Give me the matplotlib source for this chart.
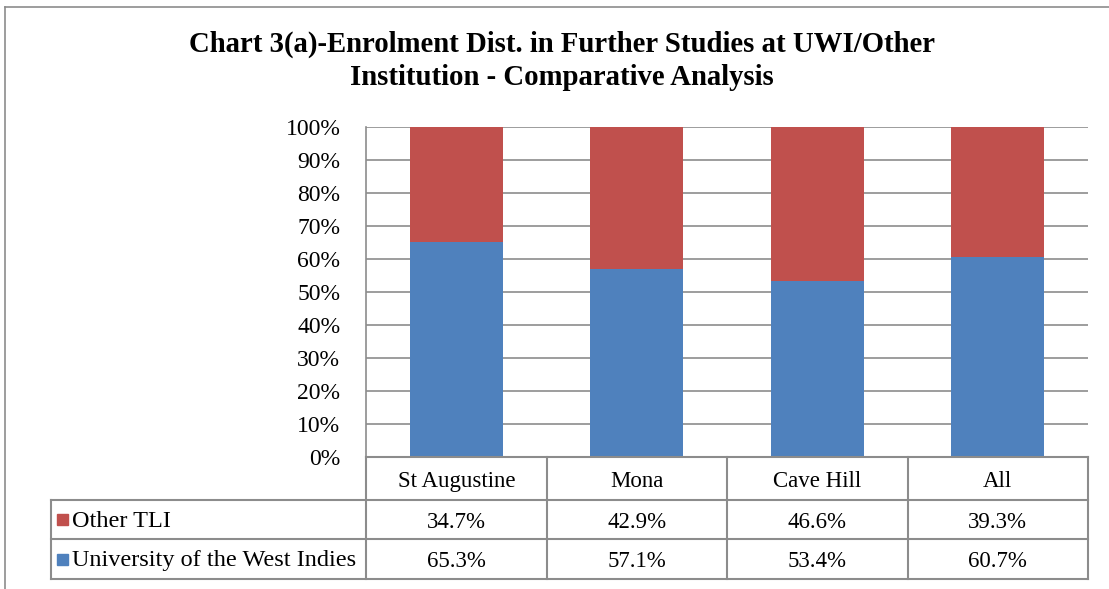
import matplotlib
matplotlib.use("Agg")
import matplotlib.pyplot as plt
from matplotlib.lines import Line2D
from matplotlib.patches import Rectangle

categories = ["St Augustine", "Mona", "Cave Hill", "All"]
uwi = [65.3, 57.1, 53.4, 60.7]
other = [34.7, 42.9, 46.6, 39.3]
series_names = ["Other TLI", "University of the West Indies"]
title = "Chart 3(a)-Enrolment Dist. in Further Studies at UWI/Other\nInstitution - Comparative Analysis"

BLUE = "#4F81BD"
RED = "#C0504D"
GRID = "#8C8C8C"
FONT = "Liberation Serif"

W, H = 1109, 589
fig = plt.figure(figsize=(W / 100, H / 100), dpi=100)

def fx(px):
    return px / W

def fy(py):
    return 1 - py / H

# outer frame (left and top edges visible)
fig.add_artist(Line2D([fx(4.5), fx(4.5)], [fy(7), 0], color=GRID, lw=1.2, transform=fig.transFigure))
fig.add_artist(Line2D([fx(4.5), 1], [fy(7), fy(7)], color=GRID, lw=1.2, transform=fig.transFigure))

# main plot area
left, right, top, bottom = 366, 1088, 127, 457
ax = fig.add_axes([fx(left), fy(bottom), fx(right - left), (bottom - top) / H])
x = list(range(len(categories)))
ax.bar(x, uwi, width=0.515, color=BLUE, zorder=3)
ax.bar(x, other, bottom=uwi, width=0.515, color=RED, zorder=3)
ax.set_xlim(-0.5, len(categories) - 0.5)
ax.set_ylim(0, 100)
ax.set_yticks(range(0, 101, 10))
ax.set_yticklabels([f"{v}%" for v in range(0, 101, 10)], fontfamily=FONT, fontsize=17)
ax.tick_params(axis="y", length=0, pad=18.5)
ax.set_xticks([])
ax.yaxis.grid(True, color=GRID, lw=1.2, zorder=0)
for s in ["top", "right", "bottom"]:
    ax.spines[s].set_visible(False)
ax.spines["left"].set_color(GRID)
ax.spines["left"].set_linewidth(1.2)

# data table
t_left, t_top, t_bottom = 51, 457, 579
row_lines = [457, 500, 539, 579]
cat_w = (right - left) / len(categories)
tab = fig.add_axes([fx(t_left), fy(t_bottom), fx(right - t_left), (t_bottom - t_top) / H])
tab.set_xlim(t_left, right)
tab.set_ylim(t_bottom, t_top)
tab.axis("off")
lc = dict(color=GRID, lw=1.5, clip_on=False)
for i in range(len(categories) + 1):
    xx = left + i * cat_w
    tab.plot([xx, xx], [row_lines[0], row_lines[-1]], **lc)
tab.plot([left, right], [row_lines[0], row_lines[0]], **lc)
for r in row_lines[1:]:
    tab.plot([t_left, right], [r, r], **lc)
tab.plot([t_left, t_left], [row_lines[1], row_lines[-1]], **lc)

dy = 3
for i, c in enumerate(categories):
    cx = left + (i + 0.5) * cat_w
    tab.text(cx, (row_lines[0] + row_lines[1]) / 2 + dy, c, ha="center", va="center",
             fontfamily=FONT, fontsize=16.5)
    tab.text(cx, (row_lines[1] + row_lines[2]) / 2 + dy, f"{other[i]:.1f}%", ha="center", va="center",
             fontfamily=FONT, fontsize=16.5)
    tab.text(cx, (row_lines[2] + row_lines[3]) / 2 + dy, f"{uwi[i]:.1f}%", ha="center", va="center",
             fontfamily=FONT, fontsize=16.5)

for j, (name, col) in enumerate(zip(series_names, [RED, BLUE])):
    cy = (row_lines[j + 1] + row_lines[j + 2]) / 2
    tab.add_patch(Rectangle((57, cy - 5), 11, 11, color=col, clip_on=False))
    tab.text(72, cy + 2, name, ha="left", va="center", fontfamily=FONT, fontsize=17.5)

fig.text(fx(562), fy(61), title, ha="center", va="center", fontfamily=FONT,
         fontweight="bold", fontsize=20.7, linespacing=1.3)

fig.savefig("out.png", dpi=100)
